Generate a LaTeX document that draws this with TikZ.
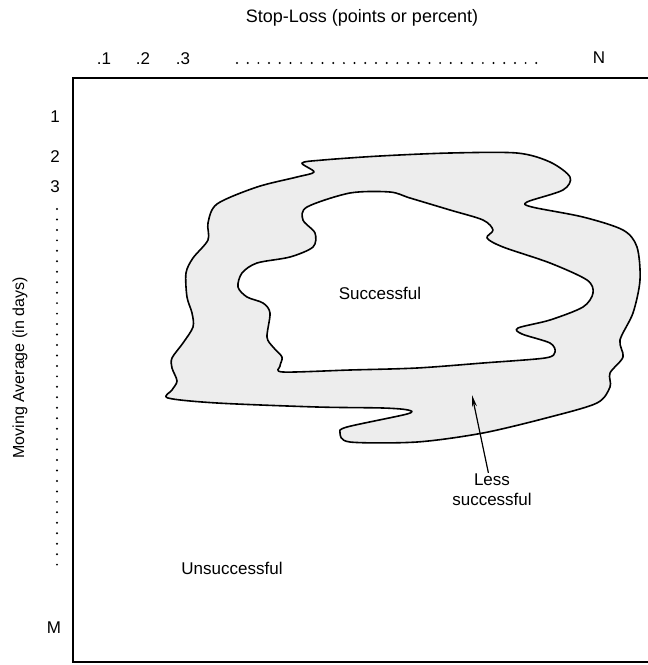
\documentclass[tikz,border=0pt]{standalone}
\usepackage{fontspec}
\setmainfont{Liberation Sans}
\usetikzlibrary{arrows.meta}

\begin{document}
\begin{tikzpicture}[
            x=1pt, y=-1pt,
            lbl/.style={inner sep=1pt, font=\fontsize{17}{20}\selectfont},
            axisline/.style={line width=1.8pt, line join=miter},
            dotrow/.style={line width=2.2pt, line cap=round, dash pattern=on 0pt off #1},
            zone/.style={line width=1.6pt, line join=round},
            arrow/.style={-{Stealth[length=12pt, width=5pt]}, line width=1.2pt}
        ]
            \useasboundingbox (0,0) rectangle (648,665);

            % --- TITULOS ---
            \node[lbl, font=\fontsize{18}{21}\selectfont] (title) at (362,18) {Stop-Loss (points or percent)};
            \node[lbl, rotate=90, font=\fontsize{16}{19}\selectfont] (ylabel) at (20,368) {Moving Average (in days)};

            % --- EIXO X ---
            \node[lbl] (x1) at (104,59) {.1};
            \node[lbl] (x2) at (143,59) {.2};
            \node[lbl] (x3) at (183,59) {.3};
            \node[lbl] (xn) at (599,58) {N};
            \coordinate (xdotsA) at (237,63);
            \coordinate (xdotsB) at (547,63);
            \draw[dotrow=10.69pt] (xdotsA) -- (xdotsB);

            % --- EIXO Y ---
            \node[lbl] (y1) at (55,117) {1};
            \node[lbl] (y2) at (55,157) {2};
            \node[lbl] (y3) at (55,187) {3};
            \node[lbl] (ym) at (54,628) {M};
            \coordinate (ydotsA) at (57,209);
            \coordinate (ydotsB) at (57,575);
            \draw[dotrow=10.46pt] (ydotsA) -- (ydotsB);

            % --- MOLDURA ---
            \draw[axisline] (648,78) -- (73,78) -- (73,662) -- (648,662);

            % --- ZONAS ---
            % zona externa (menos bem sucedida)
            \draw[zone, fill=gray!14] plot[smooth cycle, tension=0.5] coordinates {
                (297,177) (314,172) (302,163) (323,160) (380,156) (450,153) (517,153)
                (550,162) (570,177) (563,190) (527,202) (532,207) (583,217) (623,230)
                (637,247) (640,280) (633,313) (620,340) (623,357) (610,373) (610,387)
                (597,403) (550,417) (483,433) (417,442) (350,442) (340,433) (347,427)
                (407,414) (408,410) (383,408) (317,407) (217,403) (168,398) (172,390)
                (177,381) (172,368) (172,358) (183,343) (193,327) (192,313) (187,297)
                (186,273) (193,258) (208,240) (208,223) (217,204) (257,187)
            };
            % zona interna (bem sucedida)
            \draw[zone, fill=white] plot[smooth cycle, tension=0.5] coordinates {
                (307,207) (350,193) (390,192) (410,198) (450,210) (483,220) (493,230)
                (487,238) (503,247) (550,263) (587,280) (593,293) (583,307) (550,320)
                (518,328) (522,334) (550,343) (555,352) (545,358) (483,363) (417,368)
                (350,370) (283,372) (280,366) (282,357) (273,347) (267,337) (270,313)
                (263,303) (247,297) (238,287) (242,273) (257,263) (290,257) (313,247)
                (315,233) (303,220)
            };

            % --- ROTULOS ---
            \node[lbl] (success) at (380,293) {Successful};
            \node[lbl] (unsuccess) at (232,568) {Unsuccessful};
            \node[lbl, align=center, font=\fontsize{17}{20}\selectfont] (less) at (492,490) {Less\\successful};

            % --- SETA ---
            \coordinate (lessTip) at (472,395);
            \draw[arrow] (less) -- (lessTip);

        \end{tikzpicture}
\end{document}
